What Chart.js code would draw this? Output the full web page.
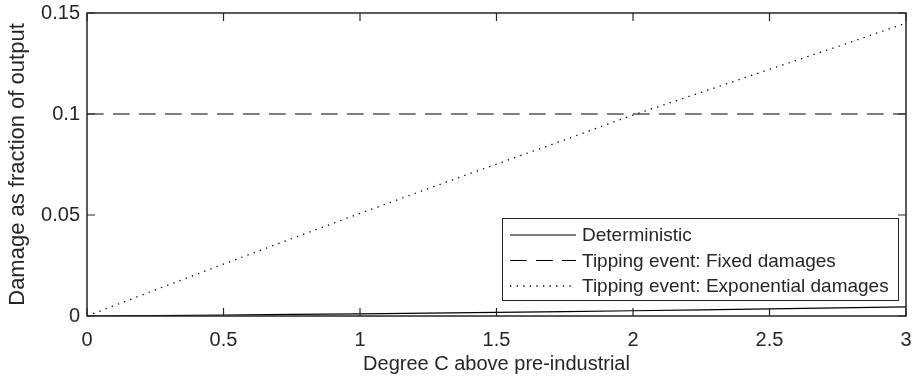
<!DOCTYPE html>
<html>
<head>
<meta charset="utf-8">
<script src="https://cdn.jsdelivr.net/npm/chart.js@4"></script>
<style>
  html, body { margin: 0; padding: 0; background: #fff; }
  #wrap { width: 914px; height: 381px; }
</style>
</head>
<body>
<div id="wrap"><canvas id="chart" width="914" height="381"></canvas></div>
<script>
// degrees C above pre-industrial
const temps = [0, 0.25, 0.5, 0.75, 1, 1.25, 1.5, 1.75, 2, 2.25, 2.5, 2.75, 3];
const deterministic = [0, 0.0002, 0.0005, 0.0008, 0.0011, 0.0014, 0.0018, 0.0022, 0.0026, 0.0030, 0.0035, 0.0040, 0.0045];
const fixedDamages = [0.1, 0.1, 0.1, 0.1, 0.1, 0.1, 0.1, 0.1, 0.1, 0.1, 0.1, 0.1, 0.1];
const expDamages = [0, 0.0129, 0.0257, 0.0383, 0.0508, 0.0631, 0.0752, 0.0872, 0.0995, 0.1107, 0.1221, 0.1334, 0.1450];

const seriesNames = ['Deterministic', 'Tipping event: Fixed damages', 'Tipping event: Exponential damages'];
const xTickLabels = ['0', '0.5', '1', '1.5', '2', '2.5', '3'];
const yTickLabels = ['0', '0.05', '0.1', '0.15'];

const axisColor = '#262626';
const font = 'Liberation Sans, Arial, sans-serif';

const toPoints = vals => vals.map((v, i) => ({ x: temps[i], y: v }));

// MATLAB style box with ticks pointing inward, plus the legend box
const boxPlugin = {
    id: 'box',
    afterDraw(chart) {
        const { ctx, chartArea: a, scales } = chart;
        const len = 8;
        ctx.save();
        ctx.strokeStyle = axisColor;
        ctx.lineWidth = 1.5;
        ctx.strokeRect(a.left, a.top, a.right - a.left, a.bottom - a.top);
        ctx.lineWidth = 1.2;
        ctx.beginPath();
        scales.x.ticks.forEach(t => {
            const px = scales.x.getPixelForValue(t.value);
            ctx.moveTo(px, a.bottom); ctx.lineTo(px, a.bottom - len);
            ctx.moveTo(px, a.top); ctx.lineTo(px, a.top + len);
        });
        scales.y.ticks.forEach(t => {
            const py = scales.y.getPixelForValue(t.value);
            ctx.moveTo(a.left, py); ctx.lineTo(a.left + len, py);
            ctx.moveTo(a.right, py); ctx.lineTo(a.right - len, py);
        });
        ctx.stroke();

        // legend
        const lx = 502, ly = 218, lw = 396, lh = 82;
        ctx.fillStyle = '#fff';
        ctx.fillRect(lx, ly, lw, lh);
        ctx.strokeStyle = axisColor;
        ctx.lineWidth = 1;
        ctx.strokeRect(lx + 0.5, ly + 0.5, lw, lh);
        ctx.font = '19px ' + font;
        ctx.textBaseline = 'middle';
        chart.data.datasets.forEach((ds, i) => {
            const cy = ly + 17 + i * 25.5;
            ctx.beginPath();
            ctx.strokeStyle = ds.borderColor;
            ctx.lineWidth = ds.borderWidth;
            ctx.setLineDash(ds.borderDash || []);
            ctx.moveTo(510, cy); ctx.lineTo(576, cy);
            ctx.stroke();
            ctx.setLineDash([]);
            ctx.fillStyle = axisColor;
            ctx.fillText(ds.label, 582, cy + 1);
        });
        ctx.restore();
    }
};

const noPad = s => {
    s.paddingLeft = 0; s.paddingRight = 0; s.paddingTop = 0; s.paddingBottom = 0;
};

new Chart(document.getElementById('chart'), {
    type: 'line',
    data: {
        datasets: [
            { label: seriesNames[0], data: toPoints(deterministic), borderColor: '#000', borderWidth: 1.2 },
            { label: seriesNames[1], data: toPoints(fixedDamages), borderColor: '#000', borderWidth: 1.2, borderDash: [16.7, 9.3] },
            { label: seriesNames[2], data: toPoints(expDamages), borderColor: '#000', borderWidth: 1.3, borderDash: [1.3, 5.3] }
        ]
    },
    options: {
        responsive: false,
        animation: false,
        layout: { padding: { left: 0, top: 13, right: 8, bottom: 0 } },
        elements: { point: { radius: 0 }, line: { tension: 0 } },
        plugins: { legend: { display: false }, tooltip: { enabled: false } },
        scales: {
            x: {
                type: 'linear', min: 0, max: 3,
                afterFit: s => { s.height = 65; noPad(s); },
                grid: { display: false, drawTicks: false },
                border: { display: false },
                ticks: {
                    stepSize: 0.5, padding: 12, color: axisColor,
                    font: { family: font, size: 20 },
                    callback: (v, i) => xTickLabels[i]
                },
                title: {
                    display: true, text: 'Degree C above pre-industrial', color: axisColor,
                    font: { family: font, size: 20 }, padding: { top: 0, bottom: 5 }
                }
            },
            y: {
                min: 0, max: 0.15,
                afterFit: s => { s.width = 87; noPad(s); },
                grid: { display: false, drawTicks: false },
                border: { display: false },
                ticks: {
                    stepSize: 0.05, padding: 7, color: axisColor,
                    font: { family: font, size: 20 },
                    callback: (v, i) => yTickLabels[i]
                },
                title: {
                    display: true, text: 'Damage as fraction of output', color: axisColor,
                    font: { family: font, size: 22 }, padding: { top: 5, bottom: 0 }
                }
            }
        }
    },
    plugins: [boxPlugin]
});
</script>
</body>
</html>
